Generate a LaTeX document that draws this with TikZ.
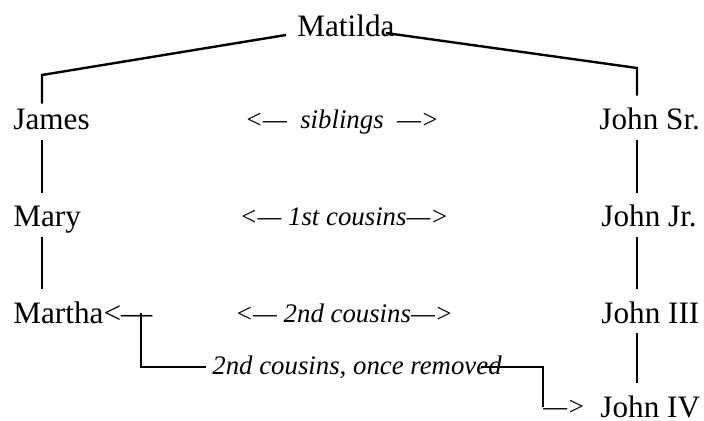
\documentclass[tikz,border=0pt]{standalone}
\usepackage{fontspec}
\setmainfont{Liberation Serif}

\begin{document}
\begin{tikzpicture}[x=0.5pt, y=-0.5pt,
        person/.style={anchor=base west, inner sep=3pt, text height=14pt, text depth=2pt, font=\fontsize{15.6}{18}\selectfont},
        rel/.style={anchor=base, inner sep=3pt, font=\fontsize{13.4}{16}\selectfont\itshape},
        link/.style={line width=1.2pt}]
        \useasboundingbox (0, 0) rectangle (704, 421);

        \node[person] (matilda) at (291, 37) {Matilda};
        \node[person] (james) at (7, 130) {James};
        \node[person] (mary) at (7, 227) {Mary};
        \node[person] (martha) at (7, 323) {Martha<—};
        \node[person] (johnsr) at (593, 130) {John Sr.};
        \node[person] (johnjr) at (595, 227) {John Jr.};
        \node[person] (john3) at (595, 323) {John III};
        \node[person] (john4) at (594, 417) {John IV};

        \node[rel] (sib) at (342, 129) {<—\ \ siblings\ \ —>};
        \node[rel] (cous1) at (344, 226) {<— 1st cousins—>};
        \node[rel] (cous2) at (344, 322) {<— 2nd cousins—>};
        \node[rel, anchor=base west] (removed) at (206, 374) {2nd cousins, once removed};
        \node[rel, anchor=base west, inner sep=0pt] (tojohn4) at (543, 415) {—>};

        \coordinate (lcol) at (42, 0);
        \coordinate (rcol) at (637, 0);
        \coordinate (lelbow) at (42, 75);
        \coordinate (relbow) at (637, 68);
        \coordinate (mdash) at (141, 313);

        \draw[link] ([xshift=-2.5pt, yshift=1pt]matilda.base west) -- (lelbow) -- ([yshift=-4pt]james.north -| lcol);
        \draw[link] ([xshift=-7.5pt, yshift=2pt]matilda.base east) -- (relbow) -- (johnsr.north -| rcol);
        \draw[link] (james.south -| lcol) -- (mary.north -| lcol);
        \draw[link] (mary.south -| lcol) -- (martha.north -| lcol);
        \draw[link] (johnsr.south -| rcol) -- (johnjr.north -| rcol);
        \draw[link] (johnjr.south -| rcol) -- (john3.north -| rcol);
        \draw[link] (john3.south -| rcol) -- (john4.north -| rcol);
        \draw[link] (mdash) |- (removed.west);
        \draw[link] ([xshift=-13.5pt]removed.east) -| (tojohn4.west);
\end{tikzpicture}
\end{document}
